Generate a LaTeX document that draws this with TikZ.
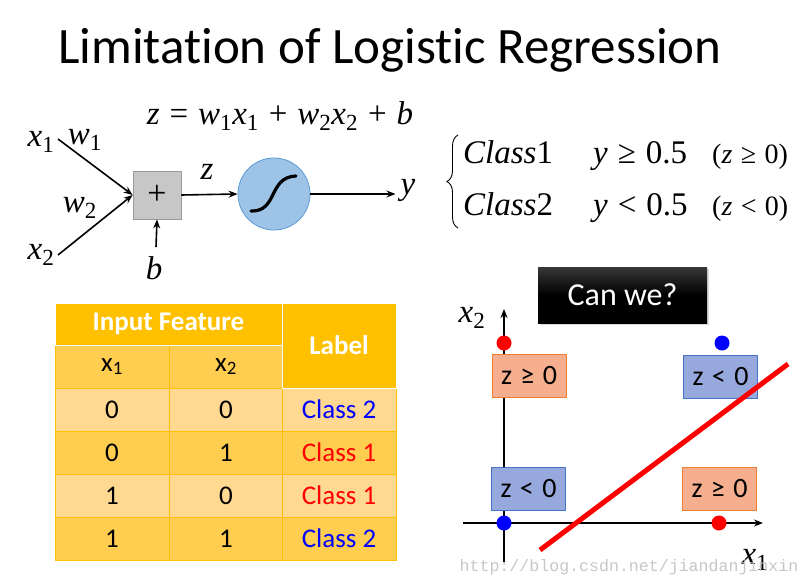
\documentclass[tikz,border=0pt]{standalone}
\usepackage{fontspec}
\setmainfont{Carlito}[Ligatures=NoCommon]
\newfontfamily\tnr{Liberation Serif}
\newfontfamily\wmfont{Liberation Mono}
\usetikzlibrary{arrows.meta, positioning, calc, decorations.pathreplacing, shadows}

\definecolor{gold}{HTML}{FFC000}
\definecolor{rowlight}{HTML}{FFD892}
\definecolor{rowdark}{HTML}{FFCE50}
\definecolor{salmon}{HTML}{F5AE8E}
\definecolor{salmonline}{HTML}{ED7D31}
\definecolor{zblue}{HTML}{97A9DC}
\definecolor{zblueline}{HTML}{4472C4}
\definecolor{sigfill}{HTML}{9DC3E6}
\definecolor{sigline}{HTML}{5B9BD5}

\newcommand{\mv}[1]{\textit{#1}}
\newcommand{\sbs}[1]{\textsubscript{#1}}
\newcommand{\op}[1]{\hspace{0.3em}#1\hspace{0.3em}}

\begin{document}
\begin{tikzpicture}[
    x=1pt, y=-1pt,
    >={Stealth[length=9pt, width=7pt]},
    % --- estilos ---
    var/.style    = {font=\tnr\fontsize{33}{36}\selectfont, inner sep=0pt},
    sumbox/.style = {rectangle, draw=black!40, fill=black!22, minimum size=48pt,
                     line width=0.8pt, inner sep=0pt, font=\tnr\fontsize{34}{36}\selectfont},
    sigm/.style   = {circle, draw=sigline, fill=sigfill, minimum size=72pt, line width=0.8pt},
    arr/.style    = {->, line width=1.6pt},
    cell/.style   = {rectangle, minimum width=114pt, minimum height=43pt, inner sep=0pt,
                     draw=gold, line width=1pt, font=\fontsize{27}{30}\selectfont},
    hcell/.style  = {cell, fill=gold, draw=white, text=white,
                     font=\bfseries\fontsize{27}{30}\selectfont},
    zpos/.style   = {rectangle, draw=salmonline, fill=salmon, minimum width=74pt,
                     minimum height=43pt, line width=0.8pt, inner sep=0pt,
                     font=\fontsize{28}{30}\selectfont},
    zneg/.style   = {zpos, draw=zblueline, fill=zblue},
    dot/.style    = {circle, inner sep=0pt, minimum size=15pt},
    axis/.style   = {->, line width=2.6pt}
]
\useasboundingbox (0,0) rectangle (811,586);

% ===================== TITULO =====================
\node (title) at (390,50) {\fontsize{51}{56}\selectfont Limitation of Logistic Regression};

% ===================== NEURONA =====================
\node[var] (zeq) at (280,116)
    {\mv{z}\op{=}\mv{w}\sbs{1}\mv{x}\sbs{1}\op{+}\mv{w}\sbs{2}\mv{x}\sbs{2}\op{+}\mv{b}};
\node[var] (x1) at (41,142) {\mv{x}\sbs{1}};
\node[var] (w1) at (85,140) {\mv{w}\sbs{1}};
\node[var] (w2) at (80,208) {\mv{w}\sbs{2}};
\node[var] (x2) at (41,255) {\mv{x}\sbs{2}};
\node[sumbox] (sum) at (157,195) {+};
\node[var] (b)  at (154,268) {\mv{b}};
\node[sigm] (sig) at (274,194) {};
\node[var] (zl) at (207,172) {\mv{z}};
\node[var, inner sep=5pt] (yl) at (408,190) {\mv{y}};

\coordinate (in1) at (58,139);
\coordinate (in2) at (58,255);
\coordinate (bin) at (156,247);

\draw[arr] (in1) -- (sum.west);
\draw[arr] (in2) -- (sum.west);
\draw[arr] (bin) -- (sum.south);
\draw[arr] (sum.east) -- (sig.west);
\draw[arr] (sig.east) -- (sig.east -| yl.west);

% sigmoide
\draw[line width=3.2pt, line cap=round]
    ($(sig)+(-23,17)$) .. controls ($(sig)+(4,18)$) and ($(sig)+(-6,-17)$) .. ($(sig)+(22,-18)$);

% ===================== CASOS =====================
\coordinate (brb) at (458,228);
\coordinate (brt) at (458,135);
\draw[line width=0.9pt, decorate, decoration={brace, amplitude=11pt}] (brb) -- (brt);

\node[var, anchor=base west] (c1) at (463,163) {\mv{Class}1};
\node[var, anchor=base west] (y1) at (593,163) {\mv{y}\op{≥}0.5};
\node[var, anchor=base west, font=\tnr\fontsize{28}{30}\selectfont] (r1) at (712,163) {(\mv{z}\op{≥}0)};
\node[var, anchor=base west] (c2) at (463,215) {\mv{Class}2};
\node[var, anchor=base west] (y2) at (593,215) {\mv{y}\op{<}0.5};
\node[var, anchor=base west, font=\tnr\fontsize{28}{30}\selectfont] (r2) at (712,215) {(\mv{z}\op{<}0)};

% ===================== TABLA =====================
\foreach \a/\b/\cls/\col/\fil [count=\i] in
    {0/0/Class 2/blue/rowlight, 0/1/Class 1/red/rowdark,
     1/0/Class 1/red/rowlight, 1/1/Class 2/blue/rowdark}{
  \node[cell, fill=\fil] (a\i)   at (112,366.5+43*\i) {\a};
  \node[cell, fill=\fil] (b\i)   at (226,366.5+43*\i) {\b};
  \node[cell, fill=\fil, text=\col] (lab\i) at (339,366.5+43*\i) {\cls};
}
\node[cell, fill=rowdark] (hx1) at (112,366.5) {x\sbs{1}};
\node[cell, fill=rowdark] (hx2) at (226,366.5) {x\sbs{2}};
\node[hcell, minimum width=227pt, minimum height=42pt] (hin) at (168.5,324) {Input Feature};
\node[hcell, minimum height=85pt] (hlab) at (339,345.5) {Label};

% ===================== PLANO =====================
\coordinate (xmin) at (463,523);
\coordinate (xmax) at (763,523);
\coordinate (ymin) at (504,562);
\coordinate (ymax) at (504,309);
\draw[axis] (xmin) -- (xmax);
\draw[axis] (ymin) -- (ymax);

\node[var] (x2ax) at (472,318) {\mv{x}\sbs{2}};
\node[var] (x1ax) at (755,560) {\mv{x}\sbs{1}};

\node[zpos] (q1) at (529,375.5) {z\op{≥}0};
\node[zneg] (q2) at (720.5,377)  {z\op{<}0};
\node[zneg] (q3) at (528.5,489)  {z\op{<}0};
\node[zpos] (q4) at (719.5,489)  {z\op{≥}0};

\node[dot, fill=red]  (p01) at (504,343) {};
\node[dot, fill=blue] (p11) at (722,343) {};
\node[dot, fill=blue] (p00) at (504,523) {};
\node[dot, fill=red]  (p10) at (719,523) {};

% recta de decision
\coordinate (lineA) at (540,550);
\coordinate (lineB) at (788,364);
\draw[red, line width=5pt] (lineA) -- (lineB);

\node[rectangle, minimum width=169pt, minimum height=56pt, text=white,
      top color=black!78, bottom color=black, middle color=black,
      drop shadow={shadow xshift=2pt, shadow yshift=-2pt, opacity=0.3},
      font=\fontsize{32}{36}\selectfont] (canwe) at (622.5,295) {Can we?};

% marca de agua
\node[text=black!22, font=\wmfont\fontsize{16.6}{18}\selectfont] (wm) at (629,567)
    {http://blog.csdn.net/jiandanjinxin};

\end{tikzpicture}
\end{document}
